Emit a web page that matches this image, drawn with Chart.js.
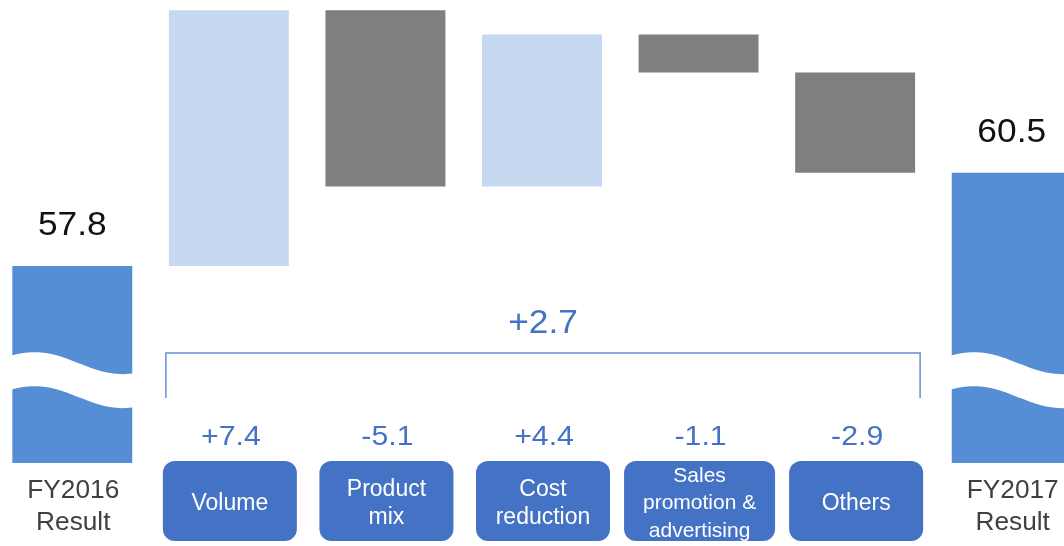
<!DOCTYPE html>
<html>
<head>
<meta charset="utf-8">
<script src="https://cdn.jsdelivr.net/npm/chart.js@4.4.1/dist/chart.umd.min.js"></script>
<style>
    html, body { margin: 0; padding: 0; background: #fff; overflow: hidden; }
    #wrap { position: absolute; left: -6px; top: 0; width: 1096px; height: 546px; }
</style>
</head>
<body>
<div id="wrap"><canvas id="graph"></canvas></div>
<script>
// data
var categories = [
    ['FY2016', 'Result'],
    ['Volume'],
    ['Product', 'mix'],
    ['Cost', 'reduction'],
    ['Sales', 'promotion &', 'advertising'],
    ['Others'],
    ['FY2017', 'Result']
];
var startValue = 57.8;
var deltas = [7.4, -5.1, 4.4, -1.1, -2.9];
var endValue = 60.5;
var breakBase = 52.1;   // cut-off bottom of the broken total bars
var breakValue = 54.5;  // middle of the wavy break

var FONT = '"Liberation Sans", Arial, sans-serif';
var BLUE = '#4472C4';

// build floating bars
var ranges = [[breakBase, startValue]];
var colors = ['#558ED5'];
var run = startValue;
deltas.forEach(function (d) {
    var next = Math.round((run + d) * 10) / 10;
    ranges.push([Math.min(run, next), Math.max(run, next)]);
    colors.push(d >= 0 ? '#C6D9F1' : '#7F7F7F');
    run = next;
});
ranges.push([breakBase, endValue]);
colors.push('#558ED5');

function fmt(v) {
    return (v >= 0 ? '+' : '') + v.toFixed(1);
}

// text slightly widened like the slide
function wideText(c, txt, x, y, sx) {
    c.save();
    c.translate(x, y);
    c.scale(sx, 1);
    c.fillText(txt, 0, 0);
    c.restore();
}

var decor = {
    id: 'decor',
    afterDatasetsDraw: function (chart) {
        var c = chart.ctx;
        var bars = chart.getDatasetMeta(0).data;
        var y = chart.scales.y;
        var last = bars.length - 1;

        // wavy break through the total bars
        var mid = y.getPixelForValue(breakValue);
        [0, last].forEach(function (i) {
            var b = bars[i];
            var x0 = b.x - b.width / 2, w = b.width;
            function wy(t, m) { return m + 11 * Math.sin(Math.PI * (t - 0.55) / 0.7); }
            c.save();
            c.fillStyle = '#fff';
            c.beginPath();
            var n = 40, k, t;
            for (k = 0; k <= n; k++) {
                t = k / n;
                var px = x0 - 3 + t * (w + 6);
                if (k === 0) c.moveTo(px, wy(t, mid - 17)); else c.lineTo(px, wy(t, mid - 17));
            }
            for (k = n; k >= 0; k--) {
                t = k / n;
                c.lineTo(x0 - 3 + t * (w + 6), wy(t, mid + 17));
            }
            c.closePath();
            c.fill();
            c.restore();

            // total value above bar
            c.save();
            c.fillStyle = '#111';
            c.font = '33px ' + FONT;
            c.textAlign = 'center';
            c.textBaseline = 'middle';
            wideText(c, chart.data.datasets[0].data[i][1].toFixed(1), b.x, Math.min(b.y, b.base) - 40, 1.07);
            c.restore();

            // category under total bar
            c.save();
            c.fillStyle = '#404040';
            c.font = '25px ' + FONT;
            c.textAlign = 'center';
            c.textBaseline = 'middle';
            categories[i].forEach(function (line, j) {
                wideText(c, line, b.x + 1, 491 + j * 32, 1.05);
            });
            c.restore();
        });

        // bracket with total change
        var left = bars[1].x - bars[1].width / 2 - 3;
        var right = bars[last - 1].x + bars[last - 1].width / 2 + 5;
        c.save();
        c.strokeStyle = '#6A8ED0';
        c.lineWidth = 1.5;
        c.beginPath();
        c.moveTo(left, 398);
        c.lineTo(left, 353);
        c.lineTo(right, 353);
        c.lineTo(right, 398);
        c.stroke();
        c.fillStyle = BLUE;
        c.font = '33px ' + FONT;
        c.textAlign = 'center';
        c.textBaseline = 'middle';
        wideText(c, fmt(endValue - startValue), (left + right) / 2, 324, 1.07);
        c.restore();

        // delta labels and category boxes
        for (var i = 1; i < last; i++) {
            var b = bars[i];
            var lines = categories[i];
            var bw = lines.length > 2 ? 151 : 134;
            c.save();
            c.fillStyle = BLUE;
            c.font = '28px ' + FONT;
            c.textAlign = 'center';
            c.textBaseline = 'middle';
            wideText(c, fmt(deltas[i - 1]), b.x + 2, 437, 1.08);

            c.beginPath();
            c.roundRect(b.x + 1 - bw / 2, 461, bw, 80, 12);
            c.fill();

            c.fillStyle = '#fff';
            var fs = lines.length > 2 ? 21 : 23;
            var lh = lines.length > 2 ? 27.5 : 28.5;
            c.font = fs + 'px ' + FONT;
            var cy = 503.5 - (lines.length - 1) * lh / 2;
            lines.forEach(function (line, j) {
                c.fillText(line, b.x + 1, cy + j * lh);
            });
            c.restore();
        }
    }
};

var ctx = document.getElementById('graph');
var graph = new Chart(ctx, {
    type: 'bar',
    data: {
        labels: categories,
        datasets: [{
            data: ranges,
            backgroundColor: colors,
            borderWidth: 0,
            barPercentage: 0.766,
            categoryPercentage: 1
        }]
    },
    options: {
        responsive: true,
        maintainAspectRatio: false,
        animation: false,
        layout: { padding: 0 },
        plugins: {
            legend: { display: false },
            tooltip: { enabled: false }
        },
        scales: {
            x: { display: false },
            y: { display: false, min: 49.7, max: 65.5 }
        }
    },
    plugins: [decor]
});
</script>
</body>
</html>
